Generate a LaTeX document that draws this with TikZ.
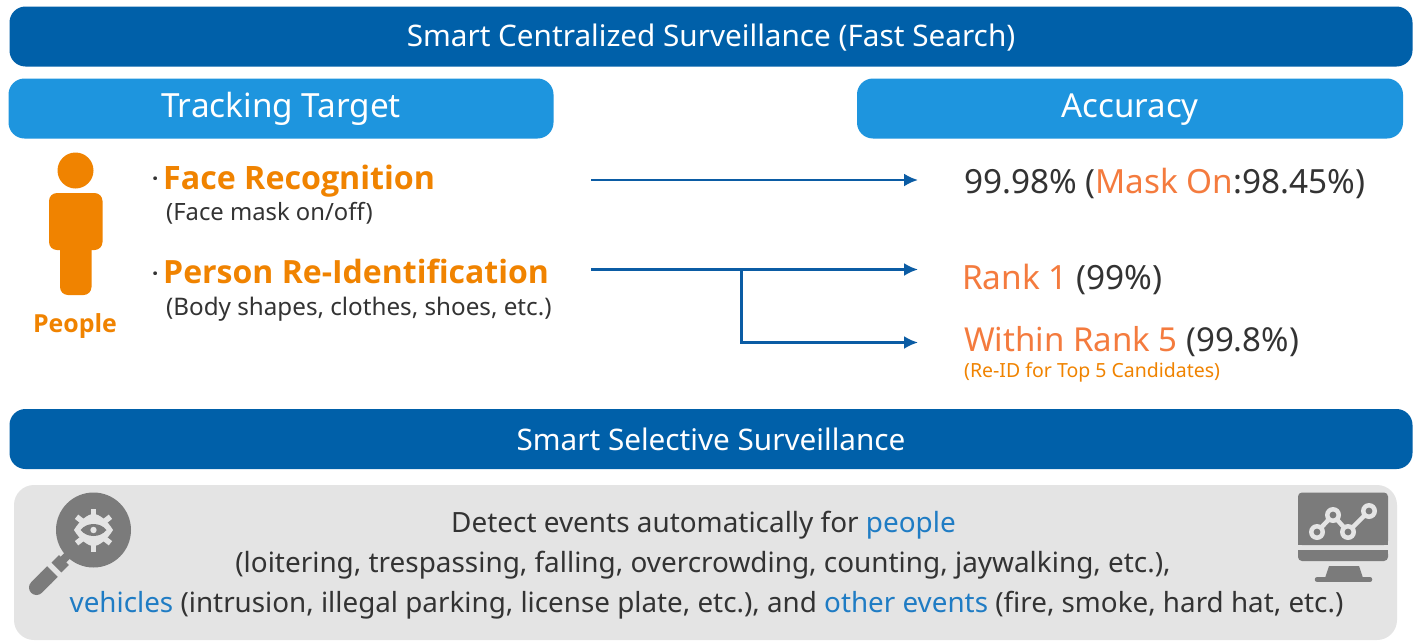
\documentclass[tikz,border=0pt]{standalone}
\usepackage{fontspec}
\setmainfont{Noto Sans}
\newfontfamily\bfam{Open Sans}[BoldFont={Open Sans Bold}]
\usetikzlibrary{arrows.meta}
\definecolor{darkbar}{HTML}{0060A9}
\definecolor{lightbar}{HTML}{1E95DE}
\definecolor{orng}{HTML}{F08300}
\definecolor{peach}{HTML}{F47B3E}
\definecolor{txt}{HTML}{333333}
\definecolor{panel}{HTML}{E4E4E4}
\definecolor{icon}{HTML}{7B7B7B}
\definecolor{linkblue}{HTML}{1F7CC4}
\definecolor{arrowc}{HTML}{0B5CA4}
\newcommand{\fs}[1]{\fontsize{#1}{#1}\selectfont}
\tikzset{
  x=1pt,y=-1pt,
  barD/.style={fill=darkbar,rounded corners=16pt,text=white,minimum height=60pt,inner sep=0pt},
  barL/.style={fill=lightbar,rounded corners=16pt,text=white,minimum height=60pt,inner sep=0pt},
  lbl/.style={inner sep=0pt,anchor=base west,text=txt},
  conn/.style={draw=arrowc,line width=2.4pt,-{Latex[length=14pt,width=13pt]}},
  ic/.style={fill=icon,draw=none},
}
\begin{document}
\begin{tikzpicture}
\useasboundingbox (0,0) rectangle (1419,640);
\fill[white] (0,0) rectangle (1419,640);
% bars
\node[barD,minimum width=1403pt,font=\fs{29.7},text height=26.5pt,text depth=7pt] (top) at (711,36.5) {Smart Centralized Surveillance (Fast Search)};
\node[barL,minimum width=545pt,font=\fs{33.3},text height=25pt,text depth=8pt] (track) at (281,108.5) {Tracking Target};
\node[barL,minimum width=546pt,font=\fs{33},text height=25pt,text depth=8pt] (acc) at (1130,108.5) {Accuracy};
\node[barD,minimum width=1403pt,font=\fs{29.7},text height=29pt,text depth=7pt] (sel) at (711,439) {Smart Selective Surveillance};
% panel
\fill[panel,rounded corners=20pt] (14,485) rectangle (1397,640);
% person icon
\fill[orng] (75.5,170.5) circle (18pt);
\fill[orng,rounded corners=8pt] (49,193) rectangle (102.5,250);
\fill[orng,rounded corners=8pt] (60,235) rectangle (91.5,295);
\node[inner sep=0pt,anchor=base,text=orng,font=\bfam\fs{24.9}\bfseries] (people) at (75,332) {People};
% left labels
\node[lbl,font=\bfam\fs{22}\bfseries] (d1) at (152,186) {·};
\node[lbl,text=orng,font=\bfam\fs{32.2}\bfseries] (face) at (163,189) {Face Recognition};
\node[lbl,font=\fs{23.8}] (facesub) at (166,220) {(Face mask on/off)};
\node[lbl,font=\bfam\fs{22}\bfseries] (d2) at (152,281) {·};
\node[lbl,text=orng,font=\bfam\fs{32}\bfseries] (reid) at (163,283) {Person Re-Identification};
\node[lbl,font=\fs{24.2}] (reidsub) at (166,315) {(Body shapes, clothes, shoes, etc.)};
% right labels
\node[lbl,font=\fs{33.3}] (r1) at (964,193) {99.98\% (\textcolor{peach}{Mask On}:98.45\%)};
\node[lbl,font=\fs{33.4}] (r2) at (962,289) {\textcolor{peach}{Rank 1} (99\%)};
\node[lbl,font=\fs{33}] (r3) at (964,351) {\textcolor{peach}{Within Rank 5} (99.8\%)};
\node[lbl,text=orng,font=\fs{19.5}] (r4) at (964,377) {(Re-ID for Top 5 Candidates)};
% connectors
\coordinate (a1s) at (591,180);
\coordinate (a1e) at (918,180);
\coordinate (a2s) at (591,269.5);
\coordinate (a2e) at (918,269.5);
\coordinate (a3b) at (741.5,269.5);
\coordinate (a3e) at (918,342.5);
\draw[conn] (a1s) -- (a1e);
\draw[conn] (a2s) -- (a2e);
\draw[conn] (a3b) |- (a3e);
% panel text
\node[inner sep=0pt,anchor=base,text=txt,font=\fs{27.9}] (p1) at (703.5,532) {Detect events automatically for \textcolor{linkblue}{people}};
\node[inner sep=0pt,anchor=base,text=txt,font=\fs{27.9}] (p2) at (703,572) {(loitering, trespassing, falling, overcrowding, counting, jaywalking, etc.),};
\node[inner sep=0pt,anchor=base,text=txt,font=\fs{27.8}] (p3) at (706.5,612) {\textcolor{linkblue}{vehicles} (intrusion, illegal parking, license plate, etc.), and \textcolor{linkblue}{other events} (fire, smoke, hard hat, etc.)};
% magnifier icon
\fill[ic] (93.5,530) circle (37.5pt);
\draw[icon,line width=8pt] (70,553) -- (60,563);
\draw[icon,line width=14pt] (64,560) -- (56.5,567.5);
\draw[icon,line width=15pt] (52.5,571.5) -- (46,578);
\draw[icon,line width=15pt,line cap=round] (46,578) -- (36.5,587.5);
\foreach \a in {90,270,38,142,218,322}{\draw[panel,line width=5.5pt] (93.5,530) -- ++(\a:21.5pt);}
\fill[panel] (74,530) .. controls (80,520) and (88,514) .. (93.5,514) .. controls (99,514) and (107,520) .. (113,530) .. controls (107,540) and (99,546) .. (93.5,546) .. controls (88,546) and (80,540) .. (74,530) -- cycle;
\fill[icon] (80.5,530) .. controls (87,522) and (100,522) .. (106.5,530) .. controls (100,538) and (87,538) .. (80.5,530) -- cycle;
\fill[panel] (93.5,530) circle (3.2pt);
% monitor icon
\fill[ic,rounded corners=4pt] (1298,492.5) rectangle (1388,545);
\fill[ic] (1298,530) rectangle (1388,545);
\fill[ic,rounded corners=4pt] (1298,550) rectangle (1388,561);
\fill[ic] (1298,550) rectangle (1388,556);
\fill[ic] (1329,566) -- (1359,566) -- (1363,578) -- (1325,578) -- cycle;
\draw[icon,line width=4.5pt,line cap=round] (1317,579.5) -- (1370,579.5);
\draw[panel,line width=4.5pt] (1317,532) -- (1333,515) -- (1348,532) -- (1369,511);
\foreach \p in {(1317,532),(1333,515),(1348,532),(1369,511)}{
  \fill[panel] \p circle (8pt); \fill[icon] \p circle (3.4pt);}
\end{tikzpicture}
\end{document}
